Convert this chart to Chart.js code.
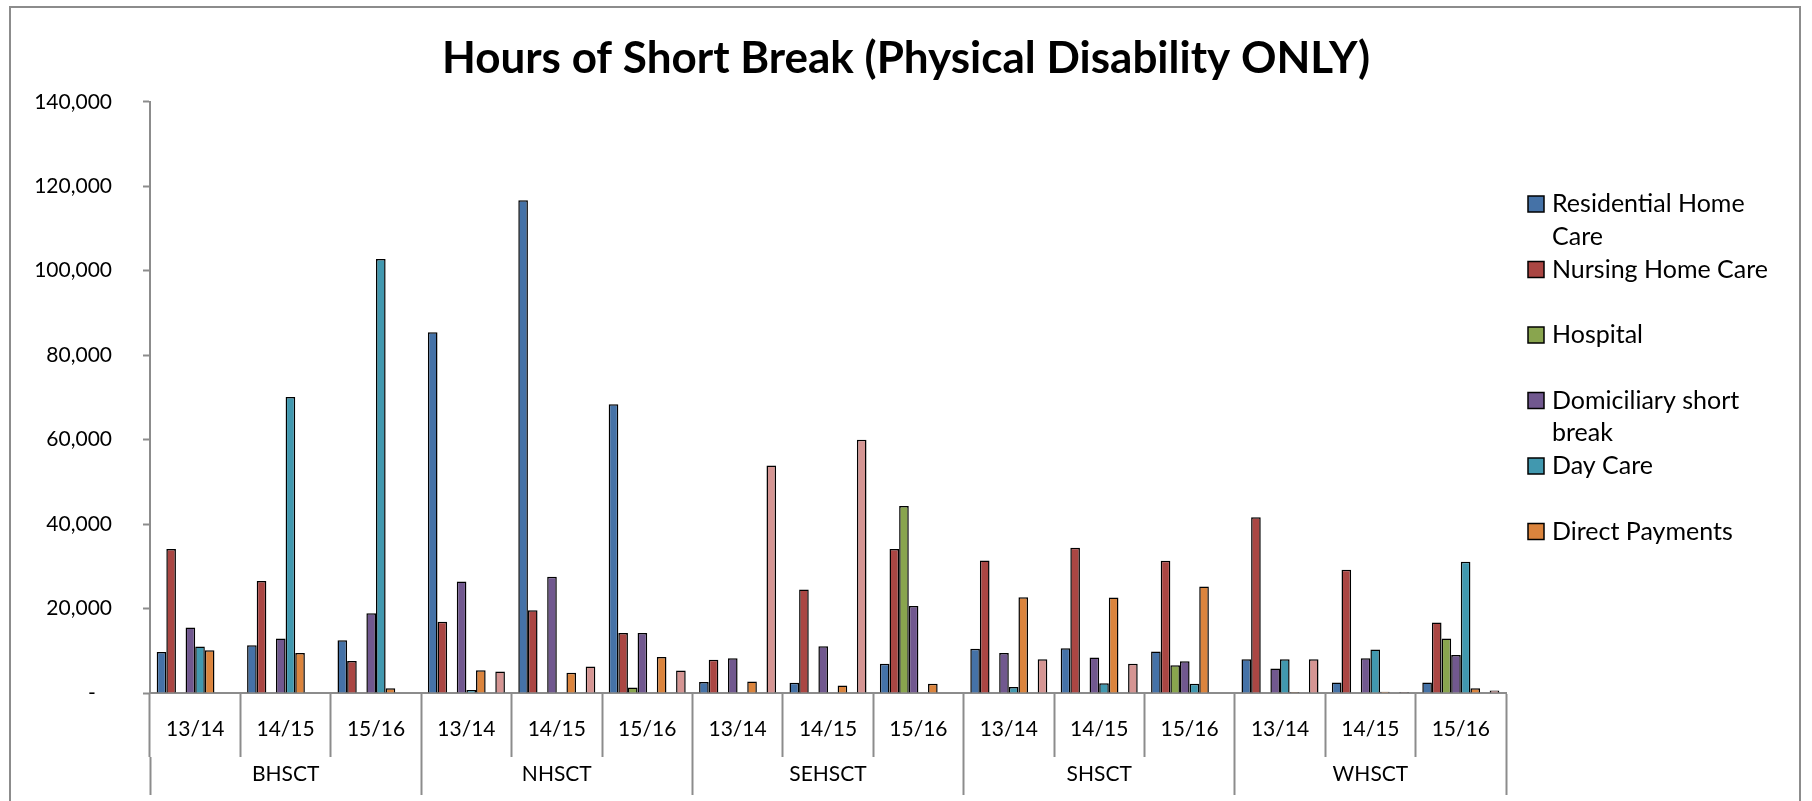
<!DOCTYPE html>
<html>
<head>
<meta charset="utf-8">
<title>Hours of Short Break (Physical Disability ONLY)</title>
<script src="https://cdn.jsdelivr.net/npm/chart.js@4.4.1/dist/chart.umd.min.js"></script>
<style>
  html, body { margin: 0; padding: 0; background: #ffffff; overflow: hidden; }
  #wrap { position: relative; width: 1812px; height: 801px; }
  #c { position: absolute; left: 0; top: 0; }
  #frame { position: absolute; left: 9px; top: 6px; width: 1792px; height: 900px;
           border: 2px solid #8c8c8c; box-sizing: border-box; pointer-events: none; }
</style>
</head>
<body>
<div id="wrap">
  <canvas id="c" width="1812" height="801"></canvas>
  <div id="frame"></div>
</div>
<script>
// ---------------- data ----------------
const chartTitle = 'Hours of Short Break (Physical Disability ONLY)';
const trusts = ['BHSCT', 'NHSCT', 'SEHSCT', 'SHSCT', 'WHSCT'];
const years = ['13/14', '14/15', '15/16'];

// order: BHSCT 13/14,14/15,15/16, NHSCT ..., SEHSCT ..., SHSCT ..., WHSCT ...
const residentialHomeCare = [9700, 11300, 12500, 85400, 116700, 68400, 2600, 2400, 6900, 10500, 10600, 9800, 8000, 2500, 2500];
const nursingHomeCare     = [34100, 26500, 7600, 16900, 19600, 14200, 7900, 24500, 34100, 31400, 34400, 31300, 41600, 29200, 16700];
const hospital            = [0, 0, 0, 0, 0, 1300, 0, 0, 44300, 0, 0, 6600, 0, 0, 12900];
const domiciliaryShort    = [15500, 12900, 18900, 26400, 27500, 14200, 8200, 11100, 20600, 9500, 8400, 7500, 5800, 8200, 9000];
const dayCare             = [11000, 70100, 102800, 700, 0, 0, 0, 0, 0, 1400, 2300, 2200, 8000, 10300, 31100];
const directPayments      = [10100, 9500, 1100, 5400, 4800, 8500, 2700, 1800, 2200, 22700, 22600, 25200, 250, 300, 1100];
const seriesSeven         = [null, null, null, null, null, null, null, null, null, null, null, null, null, null, null];
const seriesEight         = [0, 0, 0, 5100, 6300, 5300, 53900, 60000, 0, 8000, 6900, 0, 8000, 250, 600];

const yTicks = [0, 20000, 40000, 60000, 80000, 100000, 120000, 140000];

const seriesNames = ['Residential Home Care', 'Nursing Home Care', 'Hospital', 'Domiciliary short break',
                     'Day Care', 'Direct Payments', 'Series 7', 'Series 8'];
const seriesColors = ['#4572A7', '#AA4643', '#89A54E', '#71588F', '#4198AF', '#DB843D', '#93A9CF', '#D59593'];
const seriesValues = [residentialHomeCare, nursingHomeCare, hospital, domiciliaryShort, dayCare,
                      directPayments, seriesSeven, seriesEight];
const legendCount = 6; // only the first six series appear in the legend

// ---------------- chart ----------------
const categoryLabels = trusts.flatMap(() => years);
const FONT = 'Lato';
const AXIS_GRAY = '#8c8c8c';

const datasets = seriesNames.map((name, i) => ({
  label: name,
  data: seriesValues[i],
  backgroundColor: seriesColors[i],
  borderColor: '#000000',
  borderWidth: 1.5,
  categoryPercentage: 0.852,
  barPercentage: 1.0
}));

const sideLegend = {
  id: 'sideLegend',
  afterDraw(chart, args, opts) {
    const ctx = chart.ctx;
    const area = chart.chartArea;
    const boxX = area.right + opts.offsetX;
    const textX = boxX + opts.box + opts.gap;
    ctx.save();
    ctx.font = opts.fontSize + 'px ' + FONT;
    ctx.textBaseline = 'middle';
    ctx.textAlign = 'left';
    for (let i = 0; i < legendCount; i++) {
      const ds = chart.data.datasets[i];
      const y = opts.top + i * opts.step;
      ctx.fillStyle = ds.backgroundColor;
      ctx.fillRect(boxX, y - opts.box / 2, opts.box, opts.box);
      ctx.lineWidth = 1.5;
      ctx.strokeStyle = '#000';
      ctx.strokeRect(boxX, y - opts.box / 2, opts.box, opts.box);
      // word wrap
      const words = ds.label.split(' ');
      const lines = [];
      let cur = '';
      for (const w of words) {
        const test = cur ? cur + ' ' + w : w;
        if (ctx.measureText(test).width > opts.maxWidth && cur) { lines.push(cur); cur = w; }
        else cur = test;
      }
      if (cur) lines.push(cur);
      ctx.fillStyle = '#000';
      lines.forEach((ln, k) => ctx.fillText(ln, textX, y + k * opts.lineStep));
    }
    ctx.restore();
  }
};

new Chart(document.getElementById('c'), {
  type: 'bar',
  data: { labels: categoryLabels, datasets },
  plugins: [sideLegend],
  options: {
    responsive: false,
    animation: false,
    devicePixelRatio: 1,
    events: [],
    layout: { padding: { left: 0, right: 0, top: 0, bottom: 6 } },
    plugins: {
      legend: { display: false },
      tooltip: { enabled: false },
      title: {
        display: true,
        text: chartTitle,
        color: '#000',
        font: { family: FONT, weight: 'bold', size: 44, lineHeight: 1.2 },
        padding: { top: 32, bottom: 17 }
      },
      sideLegend: { offsetX: 22, box: 16, gap: 8, top: 204, step: 65.5, lineStep: 32.5, fontSize: 25, maxWidth: 240 }
    },
    scales: {
      x: {
        type: 'category',
        offset: true,
        grid: { display: true, offset: true, drawOnChartArea: false, drawTicks: true,
                tickLength: 64, tickWidth: 2, tickColor: AXIS_GRAY },
        border: { display: true, color: AXIS_GRAY, width: 2 },
        ticks: { color: '#000', font: { family: FONT, size: 21 }, padding: -40,
                 maxRotation: 0, minRotation: 0, autoSkip: false },
        afterFit: (s) => { s.height = 64; }
      },
      x2: {
        type: 'category',
        labels: trusts,
        position: 'bottom',
        offset: true,
        grid: { display: true, offset: true, drawOnChartArea: false, drawTicks: true,
                tickLength: 38, tickWidth: 2, tickColor: AXIS_GRAY },
        border: { display: false },
        ticks: { color: '#000', font: { family: FONT, size: 21 }, padding: -33,
                 maxRotation: 0, minRotation: 0, autoSkip: false },
        afterFit: (s) => { s.height = 38; }
      },
      y: {
        type: 'linear',
        position: 'left',
        min: yTicks[0],
        max: yTicks[yTicks.length - 1],
        afterBuildTicks: (s) => { s.ticks = yTicks.map(v => ({ value: v })); },
        grid: { display: true, drawOnChartArea: false, drawTicks: true,
                tickLength: 7, tickWidth: 2, tickColor: AXIS_GRAY },
        border: { display: true, color: AXIS_GRAY, width: 2 },
        ticks: {
          color: '#000', font: { family: FONT, size: 21 }, padding: 31,
          callback: (v) => v === 0 ? '-   ' : Number(v).toLocaleString('en-US')
        },
        afterFit: (s) => { s.width = 150; }
      },
      yPad: {
        type: 'linear',
        position: 'right',
        display: true,
        grid: { display: false },
        border: { display: false },
        ticks: { display: false },
        afterFit: (s) => { s.width = 306; }
      }
    }
  }
});
</script>
</body>
</html>
